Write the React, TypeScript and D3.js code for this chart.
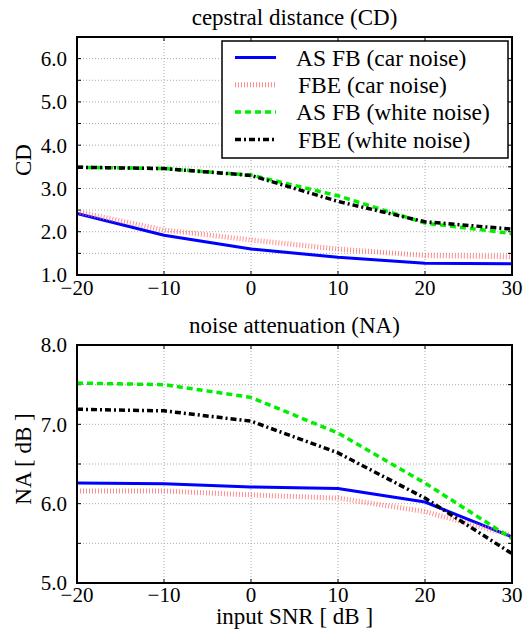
import React from 'react';
import * as d3 from 'd3';

// input SNR [dB]
const snr = [-20, -10, 0, 10, 20, 30];

// cepstral distance (CD)
const cdAsFbCar = [2.42, 1.92, 1.6, 1.41, 1.27, 1.26];
const cdFbeCar = [2.46, 2.04, 1.81, 1.6, 1.45, 1.42];
const cdAsFbWhite = [3.49, 3.46, 3.31, 2.83, 2.2, 1.96];
const cdFbeWhite = [3.49, 3.46, 3.3, 2.7, 2.23, 2.06];

// noise attenuation (NA) [dB]
const naAsFbCar = [6.26, 6.25, 6.21, 6.19, 6.02, 5.58];
const naFbeCar = [6.16, 6.16, 6.11, 6.07, 5.9, 5.6];
const naAsFbWhite = [7.52, 7.5, 7.34, 6.89, 6.26, 5.56];
const naFbeWhite = [7.19, 7.17, 7.04, 6.64, 6.07, 5.37];

const seriesNames = ['AS FB (car noise)', 'FBE (car noise)', 'AS FB (white noise)', 'FBE (white noise)'];
const cdTicks = [1.0, 2.0, 3.0, 4.0, 5.0, 6.0];
const naTicks = [5.0, 6.0, 7.0, 8.0];

const font = "'Liberation Serif', 'DejaVu Serif', serif";

const styles = [
  { stroke: '#0000ff', width: 3, dash: null, opacity: 1 },
  { stroke: '#ff7070', width: 5, dash: '1,2', opacity: 0.8 },
  { stroke: '#00ee00', width: 3.5, dash: '6,4', opacity: 1 },
  { stroke: '#000000', width: 3.5, dash: '6,3,2,3', opacity: 1 },
];

const left = 77;
const right = 512;

const fmtMinus = (v: number) => (v < 0 ? '\u2212' + Math.abs(v) : String(v));

function Panel({ top, bottom, yDomain, yTicks, series, title, titleY, xTickY, yLabel, yLabelY }: any) {
  const x = d3.scaleLinear().domain([-20, 30]).range([left, right]);
  const y = d3.scaleLinear().domain(yDomain).range([bottom, top]);
  const line = d3.line<number>().x((_, i) => x(snr[i])).y(d => y(d));
  const gridY = d3.range(yDomain[0], yDomain[1] + 0.001, 0.5);

  return (
    <g>
      <text x={(left + right) / 2} y={titleY} textAnchor="middle" fontSize={23}>
        {title}
      </text>
      {/* grid */}
      {snr.map(v => (
        <line key={'gx' + v} x1={x(v)} x2={x(v)} y1={top} y2={bottom} stroke="#aaa" strokeWidth={1} strokeDasharray="1,2" />
      ))}
      {gridY.map(v => (
        <line key={'gy' + v} x1={left} x2={right} y1={y(v)} y2={y(v)} stroke="#aaa" strokeWidth={1} strokeDasharray="1,2" />
      ))}
      {/* ticks inward */}
      {snr.map(v => (
        <g key={'tx' + v}>
          <line x1={x(v)} x2={x(v)} y1={bottom} y2={bottom - 4} stroke="#000" />
          <line x1={x(v)} x2={x(v)} y1={top} y2={top + 4} stroke="#000" />
        </g>
      ))}
      {gridY.map(v => (
        <g key={'ty' + v}>
          <line x1={left} x2={left + 4} y1={y(v)} y2={y(v)} stroke="#000" />
          <line x1={right} x2={right - 4} y1={y(v)} y2={y(v)} stroke="#000" />
        </g>
      ))}
      {/* lines */}
      {series.map((s: number[], i: number) => (
        <path
          key={i}
          d={line(s) || ''}
          fill="none"
          stroke={styles[i].stroke}
          strokeWidth={styles[i].width}
          strokeDasharray={styles[i].dash || undefined}
          strokeOpacity={styles[i].opacity}
        />
      ))}
      <rect x={left} y={top} width={right - left} height={bottom - top} fill="none" stroke="#000" strokeWidth={2} />
      {/* tick labels */}
      {snr.map(v => (
        <text key={'lx' + v} x={x(v)} y={xTickY} textAnchor="middle" fontSize={21}>
          {fmtMinus(v)}
        </text>
      ))}
      {yTicks.map((v: number) => (
        <text key={'ly' + v} x={left - 10} y={y(v)} dy="0.35em" textAnchor="end" fontSize={21}>
          {v.toFixed(1)}
        </text>
      ))}
      <text transform={`translate(31, ${yLabelY}) rotate(-90)`} textAnchor="middle" fontSize={23}>
        {yLabel}
      </text>
    </g>
  );
}

function Legend() {
  const lx = 222;
  const ly = 41;
  const w = 286;
  const h = 117;
  const rowH = 27.3;
  return (
    <g>
      <rect x={lx} y={ly} width={w} height={h} fill="#fff" stroke="#000" strokeWidth={1.5} />
      {seriesNames.map((name, i) => {
        const cy = ly + 16.5 + i * rowH;
        return (
          <g key={name}>
            <line
              x1={235}
              x2={276}
              y1={cy}
              y2={cy}
              stroke={styles[i].stroke}
              strokeWidth={styles[i].width}
              strokeDasharray={styles[i].dash || undefined}
              strokeOpacity={styles[i].opacity}
            />
            <text x={i % 2 === 0 ? 296 : 298} y={cy} dy="0.35em" fontSize={23.5}>
              {name}
            </text>
          </g>
        );
      })}
    </g>
  );
}

export default function App() {
  return (
    <svg
      width={531}
      height={631}
      style={{ position: 'absolute', left: 0, top: 0, background: '#fff', fontFamily: font }}
    >
      <Panel
        top={37}
        bottom={275}
        yDomain={[1.0, 6.5]}
        yTicks={cdTicks}
        series={[cdAsFbCar, cdFbeCar, cdAsFbWhite, cdFbeWhite]}
        title="cepstral distance (CD)"
        titleY={25}
        xTickY={294.5}
        yLabel="CD"
        yLabelY={160}
      />
      <Legend />
      <Panel
        top={345}
        bottom={583}
        yDomain={[5.0, 8.0]}
        yTicks={naTicks}
        series={[naAsFbCar, naFbeCar, naAsFbWhite, naFbeWhite]}
        title="noise attenuation (NA)"
        titleY={332.5}
        xTickY={601.5}
        yLabel="NA [ dB ]"
        yLabelY={459}
      />
      <text x={(left + right) / 2} y={624} textAnchor="middle" fontSize={23}>
        input SNR [ dB ]
      </text>
    </svg>
  );
}
